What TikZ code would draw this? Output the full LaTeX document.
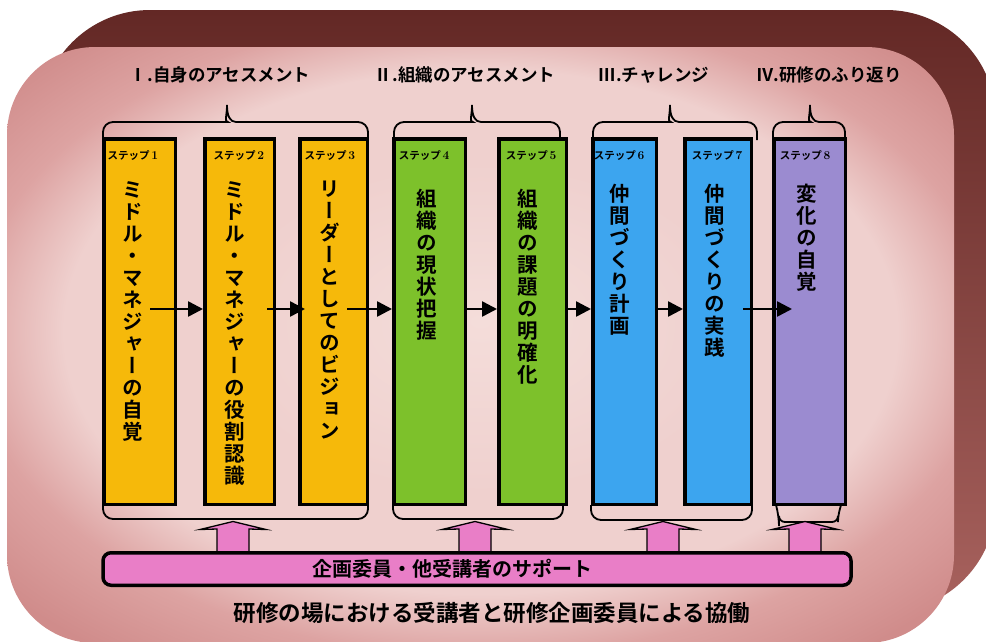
\documentclass[tikz,border=0pt]{standalone}
\usepackage{fontspec}
\newfontfamily\jpb{Noto Sans CJK JP Bold}
\newfontfamily\jpv{Noto Sans CJK JP Bold}[RawFeature=+vert]
\usetikzlibrary{arrows.meta,calc}
\definecolor{darkA}{HTML}{632825}
\definecolor{darkB}{HTML}{A8625E}
\definecolor{pinkin}{HTML}{F4DDDA}
\definecolor{pinkmid}{HTML}{EFD0CE}
\definecolor{pinkedge}{HTML}{DDA3A2}
\definecolor{pinkout}{HTML}{D08C8B}
\definecolor{cyel}{HTML}{F6B90A}
\definecolor{cgrn}{HTML}{7DC12B}
\definecolor{cblu}{HTML}{3CA5EF}
\definecolor{cpur}{HTML}{9B8BD0}
\definecolor{cpnk}{HTML}{E97EC7}
\pgfdeclareradialshading{panelshade}{\pgfpoint{0bp}{2bp}}{color(0bp)=(pinkin); color(14bp)=(pinkmid); color(22bp)=(pinkmid); color(27bp)=(pinkedge); color(33bp)=(pinkout); color(50bp)=(pinkout)}
\tikzset{
  stepbox/.style={draw=black, line width=3.5pt, minimum height=365.5pt, inner sep=0pt},
  steplabel/.style={font=\jpb\fontsize{10.5}{12}\selectfont, inner sep=0pt},
  vtext/.style={font=\jpv\fontsize{20.5}{22}\selectfont, align=center, inner sep=0pt, anchor=north},
  title/.style={font=\jpb\fontsize{17.5}{20}\selectfont, inner sep=0pt},
  harrow/.style={line width=2.6pt, -{Triangle[length=15pt,width=15pt]}},
  brace/.style={line width=1.8pt, rounded corners=10pt},
  pinkarrow/.style={fill=cpnk, draw=black, line width=1.3pt, line join=miter},
  barbox/.style={draw=black, fill=cpnk, line width=3.5pt, rounded corners=8pt, minimum width=748pt, minimum height=32.5pt, inner sep=0pt}
}
\newcommand\stepnum[1]{ステップ\,{\rmfamily\bfseries\fontsize{12}{12}\selectfont #1}}
\newcommand\pinkup[1]{\filldraw[pinkarrow] (#1-16,551) -- (#1-16,529) -- (#1-33,529.5) -- (#1,521.5) -- (#1+33,529.5) -- (#1+16,529) -- (#1+16,551);}
\newcommand\topbrace[3]{\draw[brace] (#1,140) -- (#1,122) -- (#3-9,122) [sharp corners] .. controls (#3-3,122) and (#3,116) .. (#3,105) .. controls (#3,116) and (#3+3,122) .. (#3+9,122) [rounded corners=10pt] -- (#2,122) -- (#2,140);}
\newcommand\botbrace[3]{\draw[brace] (#1,505) -- (#1,#3) -- (#2,#3) -- (#2,505);}
\begin{document}
\begin{tikzpicture}[x=1pt,y=-1pt]
\useasboundingbox (0,0) rectangle (986,641);
\fill[white] (0,0) rectangle (986,641);
% background shapes
\shade[top color=darkA, bottom color=darkB, rounded corners=110pt] (40,10) rectangle (996,612);
\shade[shading=panelshade, rounded corners=88pt] (7,47) rectangle (954,643);

% group titles
\node[title] (t1) at (220,75) {Ⅰ.自身のアセスメント};
\node[title] (t2) at (465,75) {Ⅱ.組織のアセスメント};
\node[title] (t3) at (654,75) {Ⅲ.チャレンジ};
\node[title] (t4) at (829,75) {Ⅳ.研修のふり返り};

% brackets
\topbrace{103}{368}{227}
\topbrace{394}{560}{472}
\topbrace{593}{757}{670}
\topbrace{773}{845}{810}
\botbrace{103}{368}{519}
\botbrace{393}{563}{519}
\botbrace{591}{752}{520}
\draw[brace] (776,505) -- (779,516) [rounded corners=6pt] -- (779,522) -- (838,522) -- (838,516) [sharp corners] -- (841,505);

% step boxes
\node[stepbox, fill=cyel, minimum width=71.5pt] (b1) at (139.5,321.5) {};
\node[stepbox, fill=cyel, minimum width=69.5pt] (b2) at (239.5,321.5) {};
\node[stepbox, fill=cyel, minimum width=67.5pt] (b3) at (333.5,321.5) {};
\node[stepbox, fill=cgrn, minimum width=71.5pt] (b4) at (429.5,321.5) {};
\node[stepbox, fill=cgrn, minimum width=67.5pt] (b5) at (532.5,321.5) {};
\node[stepbox, fill=cblu, minimum width=63.5pt] (b6) at (624.5,321.5) {};
\node[stepbox, fill=cblu, minimum width=66.5pt] (b7) at (718,321.5) {};
\node[stepbox, fill=cpur, minimum width=71.5pt] (b8) at (809.5,321.5) {};

% step labels
\node[steplabel] (l1) at (133,156) {\stepnum{1}};
\node[steplabel] (l2) at (239,156) {\stepnum{2}};
\node[steplabel] (l3) at (330,156) {\stepnum{3}};
\node[steplabel] (l4) at (424,156) {\stepnum{4}};
\node[steplabel] (l5) at (531,156) {\stepnum{5}};
\node[steplabel] (l6) at (619,156) {\stepnum{6}};
\node[steplabel] (l7) at (717,156) {\stepnum{7}};
\node[steplabel] (l8) at (805,156) {\stepnum{8}};

% vertical texts
\node[vtext] (v1) at (133,181) {ミ\\ド\\ル\\・\\マ\\ネ\\ジ\\ャ\\ー\\の\\自\\覚};
\node[vtext] (v2) at (235,181) {ミ\\ド\\ル\\・\\マ\\ネ\\ジ\\ャ\\ー\\の\\役\\割\\認\\識};
\node[vtext] (v3) at (330,181) {リ\\ー\\ダ\\ー\\と\\し\\て\\の\\ビ\\ジ\\ョ\\ン};
\node[vtext] (v4) at (427,189) {組\\織\\の\\現\\状\\把\\握};
\node[vtext] (v5) at (528,189) {組\\織\\の\\課\\題\\の\\明\\確\\化};
\node[vtext] (v6) at (620,184) {仲\\間\\づ\\く\\り\\計\\画};
\node[vtext] (v7) at (715,184) {仲\\間\\づ\\く\\り\\の\\実\\践};
\node[vtext] (v8) at (807,184) {変\\化\\の\\自\\覚};

% horizontal arrows
\coordinate (s1) at (150,309);
\coordinate (s2) at (267,309);
\coordinate (s3) at (347,309);
\coordinate (s4) at (b4.east |- s1);
\coordinate (s5) at (b5.east |- s1);
\coordinate (s6) at (b6.east |- s1);
\coordinate (s7) at (743,309);
\draw[harrow] (s1) -- (b2.west |- s1);
\draw[harrow] (s2) -- ($(b3.west |- s2)+(7,0)$);
\draw[harrow] (s3) -- (b4.west |- s3);
\draw[harrow] (s4) -- (b5.west |- s4);
\draw[harrow] (s5) -- (b6.west |- s5);
\draw[harrow] (s6) -- (b7.west |- s6);
\draw[harrow] (s7) -- ($(b8.west |- s7)+(20,0)$);

% support bar and arrows
\pinkup{233}
\pinkup{475}
\pinkup{663}
\pinkup{805}
\node[barbox] (bar) at (477,569) {};
\node[font=\jpb\fontsize{20}{22}\selectfont, inner sep=0pt] (bartext) at (452,569) {企画委員・他受講者のサポート};
\node[font=\jpb\fontsize{22.5}{26}\selectfont, inner sep=0pt] (caption) at (492,613) {研修の場における受講者と研修企画委員による協働};
\end{tikzpicture}
\end{document}
